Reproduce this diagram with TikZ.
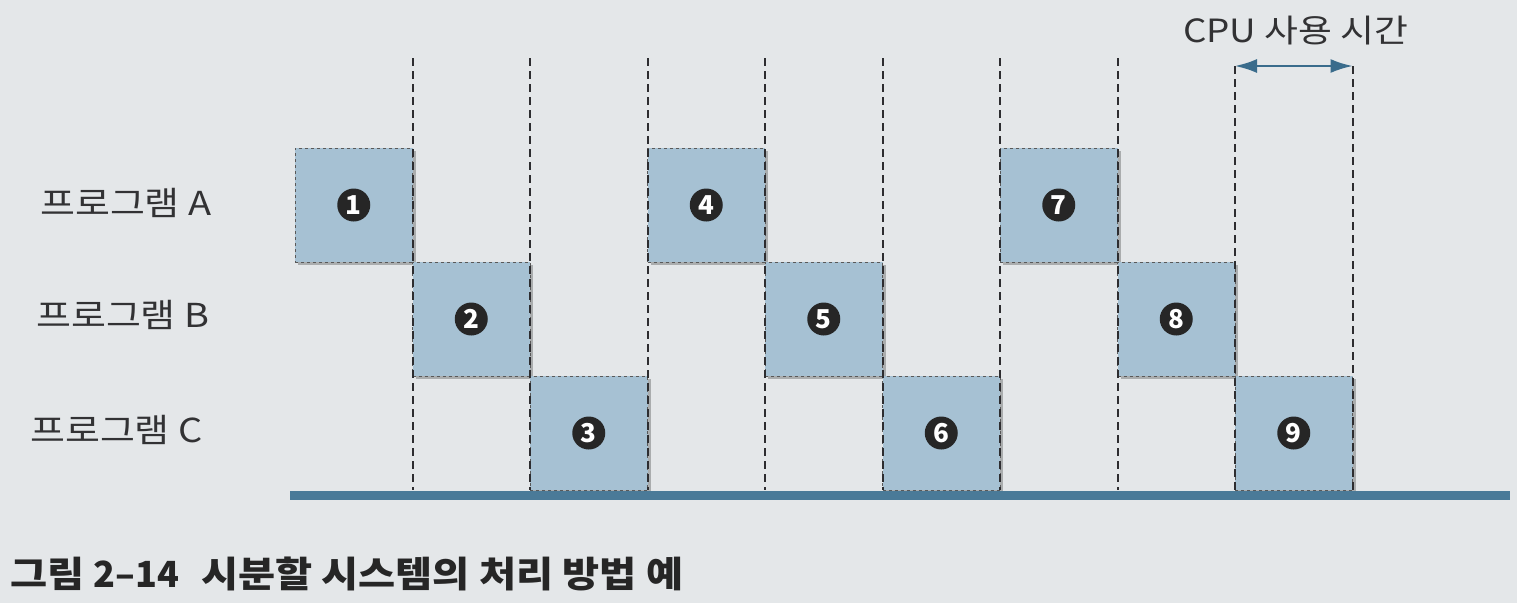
\documentclass[tikz,border=0pt]{standalone}
\usepackage{fontspec}
\setmainfont{Noto Sans CJK KR}
\newfontfamily\kr{Noto Sans CJK KR}
\newfontfamily\krw[FakeStretch=1.15]{Noto Sans CJK KR}
\newfontfamily\krc[FakeStretch=1.12]{Noto Sans CJK KR}
\usetikzlibrary{arrows.meta,shadows}
\definecolor{bgc}{RGB}{228,231,233}
\definecolor{boxc}{RGB}{166,193,211}
\definecolor{barc}{RGB}{74,122,152}
\definecolor{arrc}{RGB}{58,108,140}
\definecolor{txtc}{RGB}{50,50,52}
\definecolor{dashc}{RGB}{45,45,48}
\tikzset{
  slot/.style={draw=gray!70!black, dashed, line width=0.8pt, fill=boxc,
    minimum width=117.5pt, minimum height=114pt, inner sep=0pt,
    drop shadow={shadow xshift=3pt, shadow yshift=-3pt, opacity=0.25, fill=black}},
  numc/.style={circle, fill=black!85, text=white, minimum size=33pt, inner sep=0pt,
    font=\kr\fontsize{26}{26}\selectfont\bfseries},
  divider/.style={draw=dashc, line width=2pt, dash pattern=on 8pt off 5pt},
  rowlabel/.style={anchor=west, text=txtc, font=\krw\fontsize{33}{33}\selectfont, inner sep=0pt},
}
\begin{document}
\begin{tikzpicture}[x=1pt,y=-1pt]
\fill[bgc] (0,0) rectangle (1517,603);
\useasboundingbox (0,0) rectangle (1517,603);
% boxes: columns start at 295, step 117.5; rows A 148, B 262, C 376
\node[slot] (b1) at (353.75,205) {};
\node[slot] (b2) at (471.25,319) {};
\node[slot] (b3) at (588.75,433) {};
\node[slot] (b4) at (706.25,205) {};
\node[slot] (b5) at (823.75,319) {};
\node[slot] (b6) at (941.25,433) {};
\node[slot] (b7) at (1058.75,205) {};
\node[slot] (b8) at (1176.25,319) {};
\node[slot] (b9) at (1293.75,433) {};
\foreach \i/\n in {1/1,2/2,3/3,4/4,5/5,6/6,7/7,8/8,9/9}
  \node[numc] (n\i) at (b\i.center) {\n};
% dividers
\foreach \k/\x in {1/412.5,2/530,3/647.5,4/765,5/882.5,6/1000,7/1117.5}{
  \coordinate (t\k) at (\x,58);
  \coordinate (u\k) at (\x,490);
  \draw[divider] (t\k) -- (u\k);
}
\coordinate (t8) at (1235,66); \coordinate (u8) at (1235,490);
\coordinate (t9) at (1352.5,66); \coordinate (u9) at (1352.5,490);
\draw[divider] (t8) -- (u8);
\draw[divider] (t9) -- (u9);
% arrow
\draw[arrc, line width=2pt, {Latex[length=22pt,width=14pt]}-{Latex[length=22pt,width=14pt]}] (t8) -- (t9);
\node[anchor=west, text=txtc, font=\krw\fontsize{32}{32}\selectfont, inner sep=0pt] (cpu) at (1183,31) {CPU 사용 시간};
% axis bar
\coordinate (ax1) at (290,495);
\coordinate (ax2) at (1510,495);
\draw[barc, line width=9pt] (ax1) -- (ax2);
% row labels
\node[rowlabel] (la) at (40,203) {프로그램 A};
\node[rowlabel] (lb) at (36,315) {프로그램 B};
\node[rowlabel] (lc) at (30,430) {프로그램 C};
% caption
\node[anchor=west, text=black!85, font=\krc\fontsize{36}{36}\selectfont\bfseries, inner sep=0pt] (cap) at (10,574) {그림 {\kr 2–14}\hspace{22pt}시분할 시스템의 처리 방법 예};
\end{tikzpicture}
\end{document}
